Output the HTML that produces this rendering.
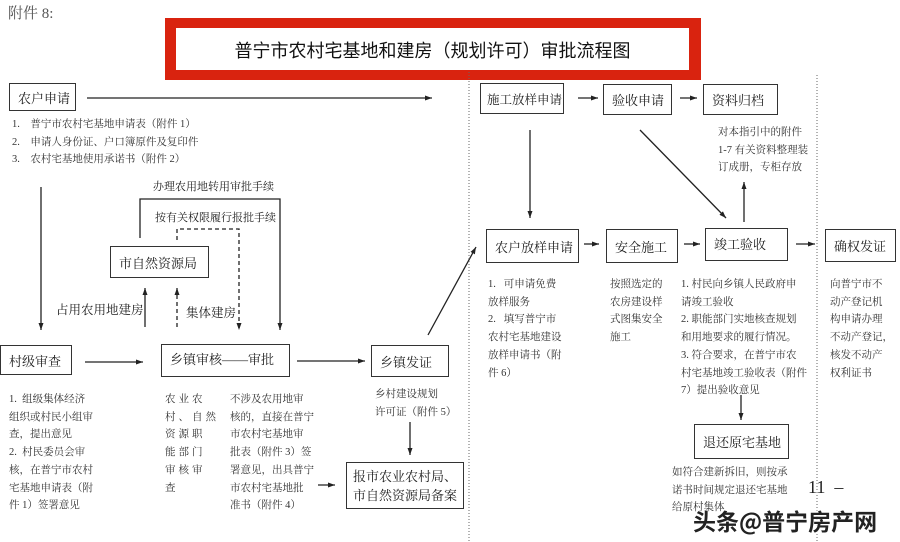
<!DOCTYPE html>
<html><head><meta charset="utf-8"><style>
body{margin:0;background:#fff;}
#c{position:relative;width:900px;height:542px;overflow:hidden;background:#fff;font-family:"Liberation Serif","Noto Serif CJK SC","Noto Sans CJK SC",serif;color:#222;}
.a{position:absolute;white-space:nowrap;}
.b{position:absolute;border:1.3px solid #333;box-sizing:border-box;font-size:13px;padding-left:8px;display:flex;align-items:center;white-space:nowrap;}
.t{position:absolute;font-size:10.5px;line-height:17.7px;color:#333;white-space:nowrap;}
svg{position:absolute;left:0;top:0;}
</style></head><body><div id="c">
<div class="a" style="left:8px;top:2px;font-size:15px;color:#555;">附件 8:</div>
<div class="a" style="left:165px;top:18px;width:536px;height:62px;background:#d9230f;"></div>
<div class="a" style="left:176px;top:28px;width:513px;height:42px;background:#fff;"></div>
<div class="a" style="left:176px;top:37px;width:513px;text-align:center;font-size:18px;font-family:'Noto Sans CJK SC',sans-serif;color:#111;">普宁市农村宅基地和建房（规划许可）审批流程图</div>

<svg width="900" height="542">
<defs><marker id="m" markerWidth="8" markerHeight="8" refX="7" refY="4" orient="auto" markerUnits="userSpaceOnUse"><path d="M0,1.5 L7,4 L0,6.5z" fill="#222"/></marker></defs>
<g stroke="#222" stroke-width="1.3" fill="none">
<line x1="87" y1="98" x2="432" y2="98" marker-end="url(#m)"/>
<line x1="41" y1="187" x2="41" y2="330" marker-end="url(#m)"/>
<polyline points="140,238 140,199 280,199 280,330" marker-end="url(#m)"/>
<polyline points="177,240 177,229 239,229 239,330" stroke-dasharray="4,3" marker-end="url(#m)"/>
<line x1="145" y1="327" x2="145" y2="288" marker-end="url(#m)"/>
<line x1="177" y1="327" x2="177" y2="288" stroke-dasharray="4,3" marker-end="url(#m)"/>
<line x1="85" y1="362" x2="143" y2="362" marker-end="url(#m)"/>
<line x1="297" y1="361" x2="365" y2="361" marker-end="url(#m)"/>
<line x1="410" y1="422" x2="410" y2="455" marker-end="url(#m)"/>
<line x1="318" y1="485" x2="335" y2="485" marker-end="url(#m)"/>
<line x1="428" y1="335" x2="476" y2="247" marker-end="url(#m)"/>
<line x1="578" y1="98" x2="598" y2="98" marker-end="url(#m)"/>
<line x1="680" y1="98" x2="697" y2="98" marker-end="url(#m)"/>
<line x1="530" y1="130" x2="530" y2="218" marker-end="url(#m)"/>
<line x1="640" y1="130" x2="726" y2="218" marker-end="url(#m)"/>
<line x1="744" y1="222" x2="744" y2="182" marker-end="url(#m)"/>
<line x1="584" y1="244" x2="599" y2="244" marker-end="url(#m)"/>
<line x1="684" y1="244" x2="700" y2="244" marker-end="url(#m)"/>
<line x1="796" y1="244" x2="815" y2="244" marker-end="url(#m)"/>
<line x1="741" y1="395" x2="741" y2="420" marker-end="url(#m)"/>
</g>
<g stroke="#666" stroke-width="1" stroke-dasharray="1,2">
<line x1="469" y1="72" x2="469" y2="542"/>
<line x1="817" y1="75" x2="817" y2="542"/>
</g>
</svg>

<div class="b" style="left:9px;top:83px;width:67px;height:28px;">农户申请</div>
<div class="t" style="left:12px;top:116px;">1.&nbsp;&nbsp;&nbsp;&nbsp;普宁市农村宅基地申请表（附件 1）<br>2.&nbsp;&nbsp;&nbsp;&nbsp;申请人身份证、户口簿原件及复印件<br>3.&nbsp;&nbsp;&nbsp;&nbsp;农村宅基地使用承诺书（附件 2）</div>
<div class="a" style="left:153px;top:178px;font-size:11px;">办理农用地转用审批手续</div>
<div class="a" style="left:155px;top:209px;font-size:11px;">按有关权限履行报批手续</div>
<div class="b" style="left:110px;top:246px;width:99px;height:32px;">市自然资源局</div>
<div class="a" style="left:56px;top:300px;font-size:12.5px;">占用农用地建房</div>
<div class="a" style="left:186px;top:303px;font-size:12.5px;">集体建房</div>

<div class="b" style="left:0px;top:345px;width:72px;height:30px;">村级审查</div>
<div class="b" style="left:161px;top:344px;width:129px;height:33px;align-items:flex-start;padding-top:4px;">乡镇审核——审批</div>
<div class="b" style="left:371px;top:345px;width:78px;height:32px;">乡镇发证</div>
<div class="t" style="left:9px;top:391px;">1.&nbsp;&nbsp;组级集体经济<br>组织或村民小组审<br>查，提出意见<br>2.&nbsp;&nbsp;村民委员会审<br>核，在普宁市农村<br>宅基地申请表（附<br>件 1）签署意见</div>
<div class="t" style="left:165px;top:391px;letter-spacing:3px;">农业农<br>村、自然<br>资源职<br>能部门<br>审核审<br>查</div>
<div class="t" style="left:230px;top:391px;">不涉及农用地审<br>核的，直接在普宁<br>市农村宅基地审<br>批表（附件 3）签<br>署意见，出具普宁<br>市农村宅基地批<br>准书（附件 4）</div>
<div class="t" style="left:375px;top:386px;">乡村建设规划<br>许可证（附件 5）</div>
<div class="b" style="left:346px;top:462px;width:118px;height:47px;font-size:13px;line-height:19px;padding-left:6px;">报市农业农村局、<br>市自然资源局备案</div>

<div class="b" style="left:480px;top:83px;width:84px;height:31px;font-size:12.5px;padding-left:6px;">施工放样申请</div>
<div class="b" style="left:603px;top:84px;width:69px;height:31px;">验收申请</div>
<div class="b" style="left:703px;top:84px;width:75px;height:31px;">资料归档</div>
<div class="t" style="left:718px;top:124px;">对本指引中的附件<br>1-7 有关资料整理装<br>订成册，专柜存放</div>
<div class="b" style="left:486px;top:229px;width:93px;height:34px;">农户放样申请</div>
<div class="b" style="left:606px;top:229px;width:72px;height:34px;">安全施工</div>
<div class="b" style="left:705px;top:228px;width:83px;height:33px;align-items:flex-start;padding-top:5px;">竣工验收</div>
<div class="b" style="left:825px;top:229px;width:71px;height:33px;">确权发证</div>
<div class="t" style="left:488px;top:276px;">1.&nbsp;&nbsp;&nbsp;可申请免费<br>放样服务<br>2.&nbsp;&nbsp;&nbsp;填写普宁市<br>农村宅基地建设<br>放样申请书（附<br>件 6）</div>
<div class="t" style="left:610px;top:276px;">按照选定的<br>农房建设样<br>式图集安全<br>施工</div>
<div class="t" style="left:681px;top:276px;">1. 村民向乡镇人民政府申<br>请竣工验收<br>2. 职能部门实地核查规划<br>和用地要求的履行情况。<br>3. 符合要求，在普宁市农<br>村宅基地竣工验收表（附件<br>7）提出验收意见</div>
<div class="t" style="left:830px;top:276px;">向普宁市不<br>动产登记机<br>构申请办理<br>不动产登记，<br>核发不动产<br>权利证书</div>
<div class="b" style="left:694px;top:424px;width:95px;height:35px;">退还原宅基地</div>
<div class="t" style="left:672px;top:464px;">如符合建新拆旧，则按承<br>诺书时间规定退还宅基地<br>给原村集体</div>
<div class="a" style="left:808px;top:477px;font-size:18px;">11&nbsp;&nbsp;–</div>
<div class="a" style="left:693px;top:503px;font-size:23px;font-weight:bold;font-family:'Noto Sans CJK SC',sans-serif;color:#222;text-shadow:0 0 3px #fff,0 0 3px #fff;">头条@普宁房产网</div>
</div></body></html>
